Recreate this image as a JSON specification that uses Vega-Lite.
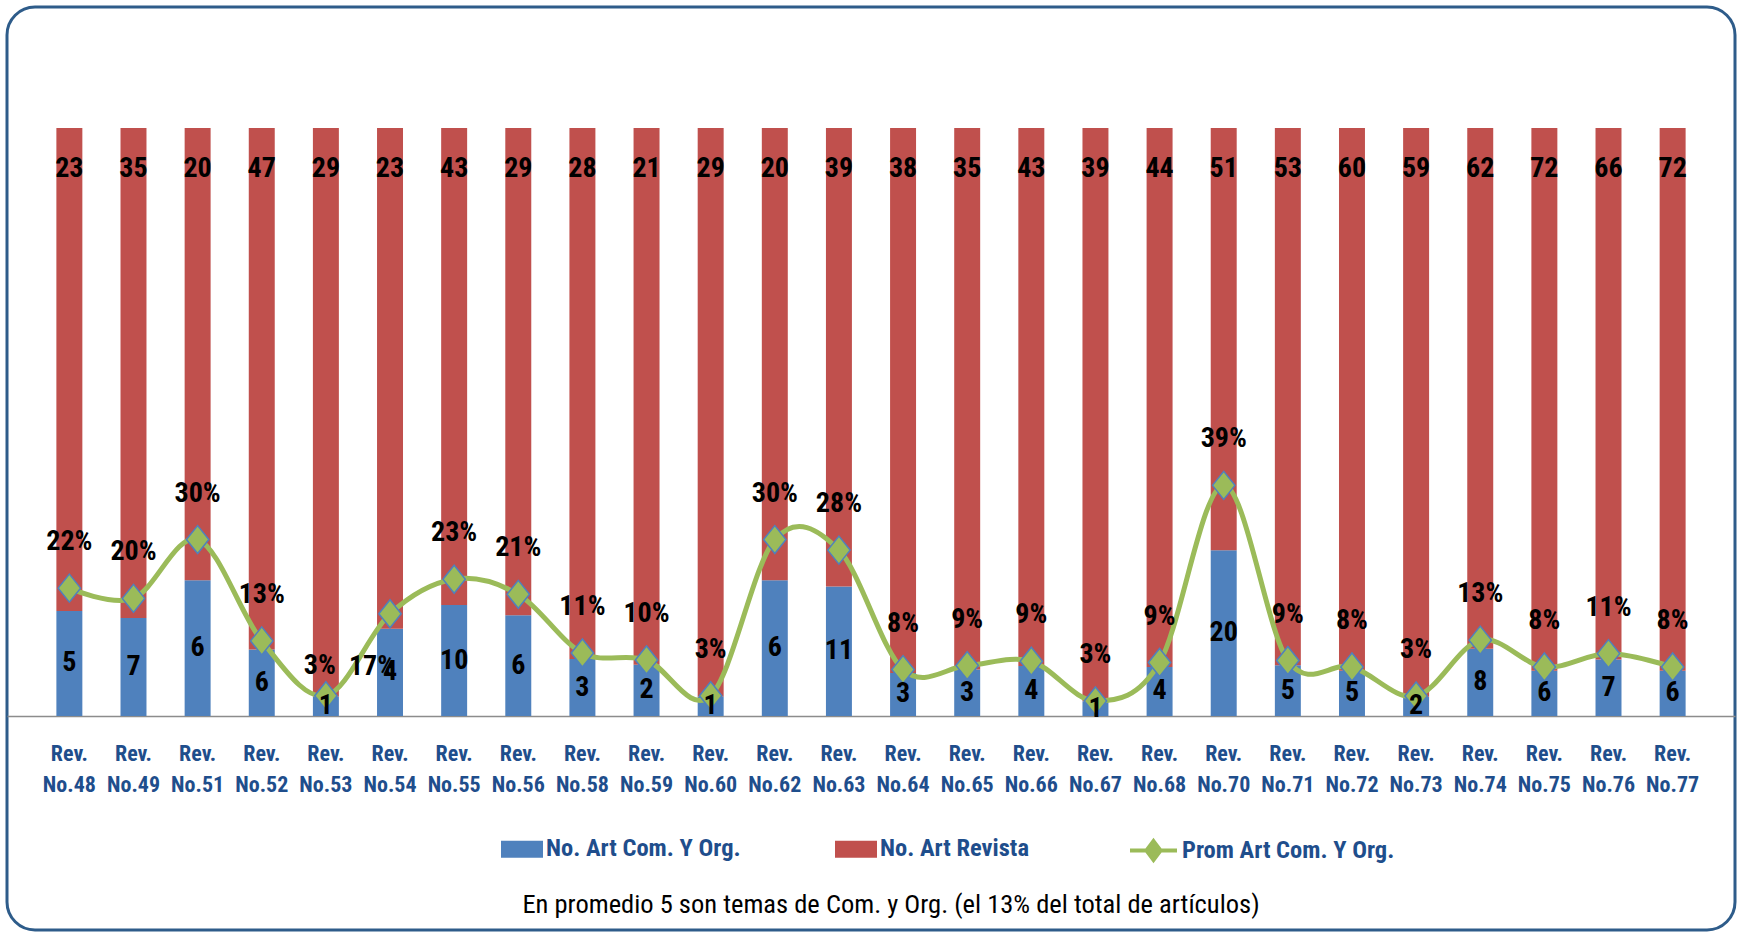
{
  "$schema": "https://vega.github.io/schema/vega-lite/v6.json",
  "width": 1728,
  "height": 923,
  "autosize": "none",
  "padding": {"left": 7, "top": 7, "right": 3, "bottom": 3},
  "background": "white",
  "config": {
    "view": {"stroke": "#2E5C8A", "strokeWidth": 3, "cornerRadius": 28},
    "font": "Roboto Condensed, Roboto, sans-serif"
  },
  "title": {
    "text": "En promedio 5 son temas de Com. y Org.  (el 13% del total de artículos)",
    "orient": "bottom",
    "anchor": "middle",
    "frame": "group",
    "offset": -25,
    "baseline": "middle",
    "dx": 20,
    "fontSize": 26.5,
    "font": "Roboto Condensed, Roboto, sans-serif",
    "fontWeight": "normal",
    "color": "#000000"
  },
  "data": {
    "values": [
      {"rev": "Rev. No.48", "com": 5, "total": 23, "pct": 0.2174},
      {"rev": "Rev. No.49", "com": 7, "total": 35, "pct": 0.2},
      {"rev": "Rev. No.51", "com": 6, "total": 20, "pct": 0.3},
      {"rev": "Rev. No.52", "com": 6, "total": 47, "pct": 0.1277},
      {"rev": "Rev. No.53", "com": 1, "total": 29, "pct": 0.0345},
      {"rev": "Rev. No.54", "com": 4, "total": 23, "pct": 0.1739},
      {"rev": "Rev. No.55", "com": 10, "total": 43, "pct": 0.2326},
      {"rev": "Rev. No.56", "com": 6, "total": 29, "pct": 0.2069},
      {"rev": "Rev. No.58", "com": 3, "total": 28, "pct": 0.1071},
      {"rev": "Rev. No.59", "com": 2, "total": 21, "pct": 0.0952},
      {"rev": "Rev. No.60", "com": 1, "total": 29, "pct": 0.0345},
      {"rev": "Rev. No.62", "com": 6, "total": 20, "pct": 0.3},
      {"rev": "Rev. No.63", "com": 11, "total": 39, "pct": 0.2821},
      {"rev": "Rev. No.64", "com": 3, "total": 38, "pct": 0.0789},
      {"rev": "Rev. No.65", "com": 3, "total": 35, "pct": 0.0857},
      {"rev": "Rev. No.66", "com": 4, "total": 43, "pct": 0.093},
      {"rev": "Rev. No.67", "com": 1, "total": 39, "pct": 0.0256},
      {"rev": "Rev. No.68", "com": 4, "total": 44, "pct": 0.0909},
      {"rev": "Rev. No.70", "com": 20, "total": 51, "pct": 0.3922},
      {"rev": "Rev. No.71", "com": 5, "total": 53, "pct": 0.0943},
      {"rev": "Rev. No.72", "com": 5, "total": 60, "pct": 0.0833},
      {"rev": "Rev. No.73", "com": 2, "total": 59, "pct": 0.0339},
      {"rev": "Rev. No.74", "com": 8, "total": 62, "pct": 0.129},
      {"rev": "Rev. No.75", "com": 6, "total": 72, "pct": 0.0833},
      {"rev": "Rev. No.76", "com": 7, "total": 66, "pct": 0.1061},
      {"rev": "Rev. No.77", "com": 6, "total": 72, "pct": 0.0833}
    ]
  },
  "encoding": {
    "x": {
      "field": "rev",
      "type": "nominal",
      "sort": null,
      "scale": {"paddingInner": 0.595, "paddingOuter": 0.77},
      "axis": {
        "orient": "bottom",
        "offset": -214,
        "title": null,
        "labelAngle": 0,
        "labelExpr": "split(datum.label, ' ')",
        "labelFont": "Roboto Condensed, Roboto, sans-serif",
        "labelFontSize": 22,
        "labelFontWeight": "bold",
        "labelColor": "#1F4E8C",
        "labelLineHeight": 31,
        "labelPadding": 27,
        "labelBaseline": "top",
        "ticks": false,
        "domainColor": "#8C8C8C",
        "domainWidth": 1.5,
        "grid": false
      }
    }
  },
  "layer": [
    {
      "transform": [{"fold": ["com", "total"], "as": ["serie", "n"]}],
      "mark": {"type": "bar"},
      "encoding": {
        "y": {
          "field": "n",
          "type": "quantitative",
          "stack": "normalize",
          "scale": {"domain": [-0.364, 1.2058], "nice": false, "zero": false},
          "axis": null
        },
        "order": {"field": "serie", "sort": "ascending"},
        "color": {
          "field": "serie",
          "type": "nominal",
          "scale": {"domain": ["com", "total"], "range": ["#4F81BD", "#C0504D"]},
          "legend": {
            "orient": "none",
            "legendX": 494,
            "legendY": 821,
            "direction": "horizontal",
            "title": null,
            "padding": 0,
            "columnPadding": 94,
            "labelOffset": 3,
            "symbolType": "M-1,-0.4H1V0.4H-1Z",
            "symbolSize": 1764,
            "symbolStrokeWidth": 0,
            "labelFont": "Roboto Condensed, Roboto, sans-serif",
            "labelFontSize": 24.5,
            "labelFontWeight": "bold",
            "labelColor": "#1F4E8C",
            "labelLimit": 400,
            "labelExpr": "datum.value == 'com' ? 'No. Art Com. Y Org.' : 'No.  Art Revista'"
          }
        }
      }
    },
    {
      "mark": {"type": "text", "fontSize": 28, "fontWeight": "bold", "color": "#000000", "baseline": "middle", "dy": 41},
      "encoding": {
        "y": {"datum": 1, "type": "quantitative"},
        "text": {"field": "total", "type": "quantitative"}
      }
    },
    {
      "mark": {"type": "line", "interpolate": "cardinal", "strokeWidth": 5},
      "encoding": {
        "y": {"field": "pct", "type": "quantitative"},
        "stroke": {
          "datum": "Prom Art Com. Y Org.",
          "scale": {"range": ["#9BBB59"]},
          "legend": {
            "orient": "none",
            "legendX": 1121,
            "legendY": 818,
            "title": null,
            "padding": 0,
            "labelOffset": 3,
            "symbolType": "M-1,0H1M0,-0.4L0.3,0L0,0.4L-0.3,0Z",
            "symbolSize": 2209,
            "symbolStrokeWidth": 4,
            "symbolFillColor": "#9BBB59",
            "symbolStrokeColor": "#9BBB59",
            "labelFont": "Roboto Condensed, Roboto, sans-serif",
            "labelFontSize": 24.5,
            "labelFontWeight": "bold",
            "labelColor": "#1F4E8C",
            "labelLimit": 400
          }
        }
      }
    },
    {
      "mark": {"type": "point", "shape": "M-0.8,0L0,-1L0.8,0L0,1Z", "size": 784, "filled": true, "fill": "#9BBB59", "stroke": "#4F81BD", "strokeWidth": 1.5, "opacity": 1},
      "encoding": {
        "y": {"field": "pct", "type": "quantitative"}
      }
    },
    {
      "transform": [{"fold": ["com", "total"], "as": ["serie", "n"]}],
      "mark": {"type": "text", "fontSize": 28, "fontWeight": "bold", "color": "#000000", "baseline": "middle"},
      "encoding": {
        "y": {"field": "n", "type": "quantitative", "stack": "normalize", "bandPosition": 0.5},
        "order": {"field": "serie", "sort": "ascending"},
        "text": {"condition": {"test": "datum.serie == 'com'", "field": "n", "type": "quantitative"}, "value": ""}
      }
    },
    {
      "transform": [{"filter": "datum.rev != 'Rev. No.54' && datum.rev != 'Rev. No.53'"}],
      "mark": {"type": "text", "fontSize": 28, "fontWeight": "bold", "color": "#000000", "baseline": "middle", "dy": -46},
      "encoding": {
        "y": {"field": "pct", "type": "quantitative"},
        "text": {"field": "pct", "type": "quantitative", "format": ".0%"}
      }
    },
    {
      "transform": [{"filter": "datum.rev == 'Rev. No.53'"}],
      "mark": {"type": "text", "fontSize": 28, "fontWeight": "bold", "color": "#000000", "baseline": "middle", "dx": -6, "dy": -30},
      "encoding": {
        "y": {"field": "pct", "type": "quantitative"},
        "text": {"field": "pct", "type": "quantitative", "format": ".0%"}
      }
    },
    {
      "transform": [{"filter": "datum.rev == 'Rev. No.54'"}],
      "mark": {"type": "text", "fontSize": 28, "fontWeight": "bold", "color": "#000000", "baseline": "middle", "dx": -18, "dy": 53},
      "encoding": {
        "y": {"field": "pct", "type": "quantitative"},
        "text": {"field": "pct", "type": "quantitative", "format": ".0%"}
      }
    }
  ]
}
